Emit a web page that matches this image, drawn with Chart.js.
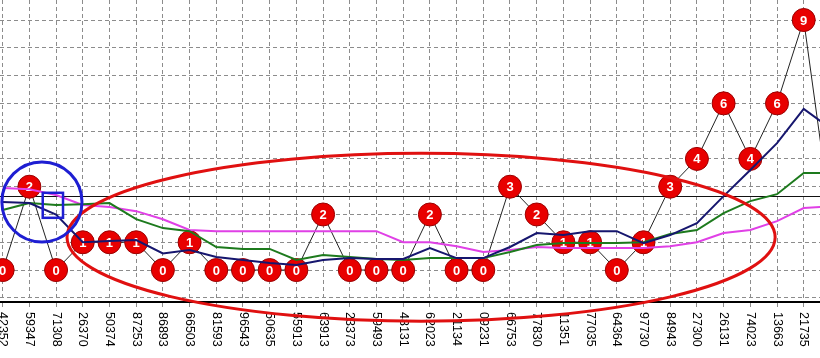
<!DOCTYPE html>
<html>
<head>
<meta charset="utf-8">
<script src="https://cdn.jsdelivr.net/npm/chart.js@4.4.1/dist/chart.umd.min.js"></script>
<style>
    html, body { margin: 0; padding: 0; background: #fff; }
</style>
</head>
<body>
<canvas id="drawChart" width="820" height="358"></canvas>
<script>
// draw codes along the bottom axis
const drawCodes = ['42352', '59347', '71308', '26370', '50374', '87253', '86893', '66503',
    '81593', '96543', '50635', '55913', '63913', '23373', '59493', '48131', '62023', '21134',
    '09231', '66753', '77830', '11351', '77035', '64364', '97730', '84943', '27300', '26131',
    '74023', '13663', '21735'];

// hit counts (the red balls); the last one runs off the right edge
const hitValues = [0, 3, 0, 1, 1, 1, 0, 1, 0, 0, 0, 0, 2, 0, 0, 0, 2, 0, 0, 3, 2, 1, 1, 0, 1, 3, 4, 6, 4, 6, 9, 2];
const hitLabels = ['0', '2', '0', '1', '1', '1', '0', '1', '0', '0', '0', '0', '2', '0', '0', '0', '2', '0', '0', '3', '2', '1', '1', '0', '1', '3', '4', '6', '4', '6', '9', '2'];

// moving averages
const navyAvg = [2.45, 2.41, 2.0, 1.0, 1.05, 1.08, 0.6, 0.72, 0.47, 0.36, 0.25, 0.18, 0.36, 0.43, 0.4, 0.4,
    0.79, 0.43, 0.43, 0.83, 1.33, 1.26, 1.4, 1.4, 0.97, 1.26, 1.69, 2.66, 3.6, 4.57, 5.8, 5.1];
const greenAvg = [2.16, 2.41, 2.34, 2.37, 2.41, 1.83, 1.51, 1.4, 0.83, 0.76, 0.76, 0.36, 0.54, 0.47, 0.4, 0.36,
    0.43, 0.43, 0.43, 0.65, 0.9, 0.97, 0.97, 0.97, 1.0, 1.3, 1.44, 2.05, 2.48, 2.73, 3.49, 3.49];
const pinkAvg = [2.95, 2.91, 2.7, 2.34, 2.27, 2.12, 1.83, 1.44, 1.4, 1.4, 1.4, 1.4, 1.4, 1.4, 1.4, 1.0,
    1.0, 0.86, 0.65, 0.72, 0.83, 0.79, 0.79, 0.79, 0.79, 0.86, 1.0, 1.33, 1.44, 1.76, 2.23, 2.3];

const refLevel = 2.66;

// hand-drawn marks, in data units
const ringMark = { x: 1.47, y: 2.45, r: 1.5 };
const boxMark = { x1: 1.5, y1: 2.78, x2: 2.26, y2: 1.88 };
const ovalMark = { x: 15.67, y: 1.18, rx: 13.26, ry: 3.02 };

function toPoints(arr) {
    return arr.map((v, i) => ({ x: i, y: v }));
}

const refLine = {
    id: 'refLine',
    beforeDatasetsDraw(chart) {
        const { ctx, chartArea } = chart;
        const y = Math.round(chart.scales.y.getPixelForValue(refLevel)) + 0.5;
        ctx.save();
        ctx.strokeStyle = '#111';
        ctx.lineWidth = 1;
        ctx.beginPath();
        ctx.moveTo(chartArea.left, y);
        ctx.lineTo(chartArea.right, y);
        ctx.stroke();
        ctx.restore();
    }
};

const ballText = {
    id: 'ballText',
    afterDatasetDraw(chart, args) {
        if (args.index !== 3) return;
        const ctx = chart.ctx;
        ctx.save();
        ctx.font = 'bold 13px "Liberation Sans", Arial, sans-serif';
        ctx.fillStyle = '#fff';
        ctx.textAlign = 'center';
        ctx.textBaseline = 'middle';
        args.meta.data.forEach((pt, i) => {
            if (i >= drawCodes.length) return;
            ctx.fillText(hitLabels[i], pt.x, pt.y + 1);
        });
        ctx.restore();
    }
};

const codeLabels = {
    id: 'codeLabels',
    afterDraw(chart) {
        const { ctx, chartArea } = chart;
        const xs = chart.scales.x;
        ctx.save();
        ctx.font = '12.5px "Liberation Sans", Arial, sans-serif';
        ctx.fillStyle = '#000';
        ctx.textAlign = 'left';
        ctx.textBaseline = 'middle';
        drawCodes.forEach((code, i) => {
            ctx.save();
            ctx.translate(xs.getPixelForValue(i), chartArea.bottom + 10);
            ctx.rotate(Math.PI / 2);
            ctx.fillText(code, 0, 0);
            ctx.restore();
        });
        ctx.restore();
    }
};

const handMarks = {
    id: 'handMarks',
    afterDraw(chart) {
        const ctx = chart.ctx;
        const xs = chart.scales.x, ys = chart.scales.y;

        // red oval
        const ox = xs.getPixelForValue(ovalMark.x);
        const oy = ys.getPixelForValue(ovalMark.y);
        const orx = xs.getPixelForValue(ovalMark.x + ovalMark.rx) - ox;
        const ory = oy - ys.getPixelForValue(ovalMark.y + ovalMark.ry);
        ctx.save();
        ctx.strokeStyle = '#e01010';
        ctx.lineWidth = 3;
        ctx.beginPath();
        ctx.ellipse(ox, oy, orx, ory, 0, 0, Math.PI * 2);
        ctx.stroke();

        // blue ring and box
        const cx = xs.getPixelForValue(ringMark.x);
        const cy = ys.getPixelForValue(ringMark.y);
        const cr = xs.getPixelForValue(ringMark.x + ringMark.r) - cx;
        ctx.strokeStyle = '#1e1ed2';
        ctx.lineWidth = 3;
        ctx.beginPath();
        ctx.arc(cx, cy, cr, 0, Math.PI * 2);
        ctx.stroke();

        const bx1 = xs.getPixelForValue(boxMark.x1), bx2 = xs.getPixelForValue(boxMark.x2);
        const by1 = ys.getPixelForValue(boxMark.y1), by2 = ys.getPixelForValue(boxMark.y2);
        ctx.lineWidth = 2.5;
        ctx.strokeRect(bx1, by1, bx2 - bx1, by2 - by1);
        ctx.restore();
    }
};

const lineStyle = { borderWidth: 2, pointRadius: 0, tension: 0, fill: false };

new Chart(document.getElementById('drawChart'), {
    type: 'line',
    data: {
        datasets: [
            { label: 'navy', data: toPoints(navyAvg), borderColor: '#16166e', ...lineStyle },
            { label: 'green', data: toPoints(greenAvg), borderColor: '#1d7a1d', ...lineStyle },
            { label: 'pink', data: toPoints(pinkAvg), borderColor: '#e040e6', ...lineStyle },
            {
                label: 'hits',
                data: toPoints(hitValues),
                borderColor: '#222',
                borderWidth: 1,
                tension: 0,
                // balls past the last code sit off the canvas
                pointRadius: c => (c.dataIndex < drawCodes.length ? 11.5 : 0),
                pointBackgroundColor: '#e80000',
                pointBorderColor: '#9a0000',
                pointBorderWidth: 1
            }
        ]
    },
    options: {
        responsive: false,
        animation: false,
        events: [],
        layout: { padding: 0, autoPadding: false },
        plugins: {
            legend: { display: false },
            tooltip: { enabled: false }
        },
        scales: {
            x: {
                type: 'linear',
                min: -0.1,
                max: 30.61,
                afterFit: s => { s.height = 56; },
                ticks: { stepSize: 1, includeBounds: false, display: false },
                grid: { color: '#8c8c8c', lineWidth: 1, tickLength: 7, tickColor: '#8c8c8c', tickBorderDash: [4, 3] },
                border: { display: true, color: '#000', width: 2, dash: [4, 3] }
            },
            y: {
                min: -1.15,
                max: 9.72,
                afterFit: s => { s.width = 0; },
                ticks: { stepSize: 1, includeBounds: false, display: false },
                grid: { color: '#8c8c8c', lineWidth: 1, drawTicks: false },
                border: { display: false, dash: [4, 3] }
            }
        }
    },
    plugins: [refLine, ballText, codeLabels, handMarks]
});
</script>
</body>
</html>
